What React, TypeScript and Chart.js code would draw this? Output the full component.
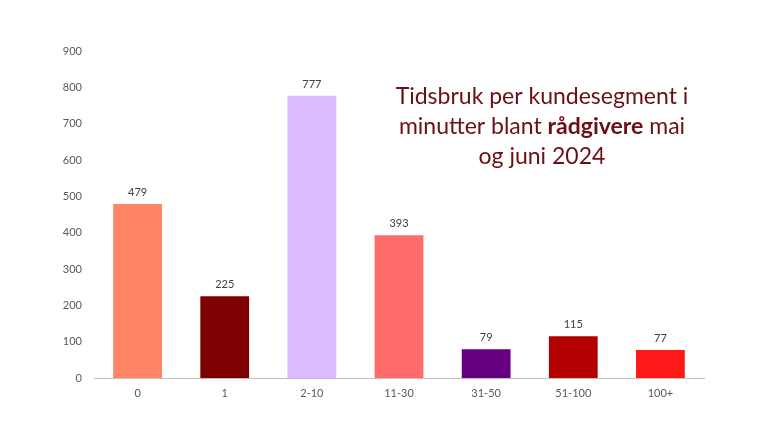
import React, { useEffect, useRef } from 'react';
import { Chart, registerables } from 'chart.js';

Chart.register(...registerables);

const categories = ['0', '1', '2-10', '11-30', '31-50', '51-100', '100+'];
const minutes = [479, 225, 777, 393, 79, 115, 77];
const barColors = ['#FF8566', '#7F0000', '#DDB9FF', '#FF6B6B', '#660080', '#B30000', '#FF1A1A'];
const titleLines = [
    [{ t: 'Tidsbruk per kundesegment i', b: false }],
    [{ t: 'minutter blant ', b: false }, { t: 'rådgivere', b: true }, { t: ' mai', b: false }],
    [{ t: 'og juni 2024', b: false }],
];

const FONT = 'Lato, "Open Sans", sans-serif';

const valueLabels = {
    id: 'valueLabels',
    afterDatasetsDraw(chart: any) {
        const ctx = chart.ctx;
        const meta = chart.getDatasetMeta(0);
        ctx.save();
        ctx.font = `11px ${FONT}`;
        ctx.fillStyle = '#404040';
        ctx.textAlign = 'center';
        ctx.textBaseline = 'bottom';
        meta.data.forEach((bar: any, i: number) => {
            ctx.fillText(String(minutes[i]), bar.x, bar.y - 6);
        });
        ctx.restore();
    },
};

const richTitle = {
    id: 'richTitle',
    afterDraw(chart: any) {
        const ctx = chart.ctx;
        ctx.save();
        ctx.fillStyle = '#6A0F16';
        ctx.textBaseline = 'middle';
        ctx.textAlign = 'left';
        const cx = 542;
        const size = 23;
        titleLines.forEach((parts, li) => {
            let w = 0;
            parts.forEach((p) => {
                ctx.font = `${p.b ? 'bold ' : ''}${size}px ${FONT}`;
                w += ctx.measureText(p.t).width;
            });
            let x = cx - w / 2;
            const y = 97 + li * 30;
            parts.forEach((p) => {
                ctx.font = `${p.b ? 'bold ' : ''}${size}px ${FONT}`;
                ctx.fillText(p.t, x, y);
                x += ctx.measureText(p.t).width;
            });
        });
        ctx.restore();
    },
};

export default function App() {
    const canvas = useRef<HTMLCanvasElement>(null);

    useEffect(() => {
        const chart = new Chart(canvas.current as HTMLCanvasElement, {
            type: 'bar',
            data: {
                labels: categories,
                datasets: [{
                    data: minutes,
                    backgroundColor: barColors,
                    borderWidth: 0,
                    barPercentage: 0.56,
                    categoryPercentage: 1,
                }],
            },
            options: {
                responsive: false,
                animation: false,
                layout: { padding: { left: 0, right: 68, top: 51, bottom: 0 } },
                plugins: {
                    legend: { display: false },
                    title: { display: false },
                    tooltip: { enabled: false },
                },
                scales: {
                    x: {
                        grid: { display: false, drawTicks: false },
                        border: { display: true, color: '#BFBFBF', width: 1 },
                        ticks: { color: '#595959', font: { family: FONT, size: 11 }, padding: 9 },
                        afterFit: (s: any) => { s.height = 70; },
                    },
                    y: {
                        min: 0,
                        max: 900,
                        grid: { display: false, drawTicks: false },
                        border: { display: false },
                        ticks: { stepSize: 100, color: '#595959', font: { family: FONT, size: 11 }, padding: 12 },
                        afterFit: (s: any) => { s.width = 94; },
                    },
                },
            },
            plugins: [valueLabels, richTitle],
        });
        return () => {
            chart.destroy();
        };
    }, []);

    return (
        <div style={{ position: 'absolute', left: 0, top: 0, width: 772, height: 448, background: '#fff' }}>
            <canvas ref={canvas} width={772} height={448} />
        </div>
    );
}
